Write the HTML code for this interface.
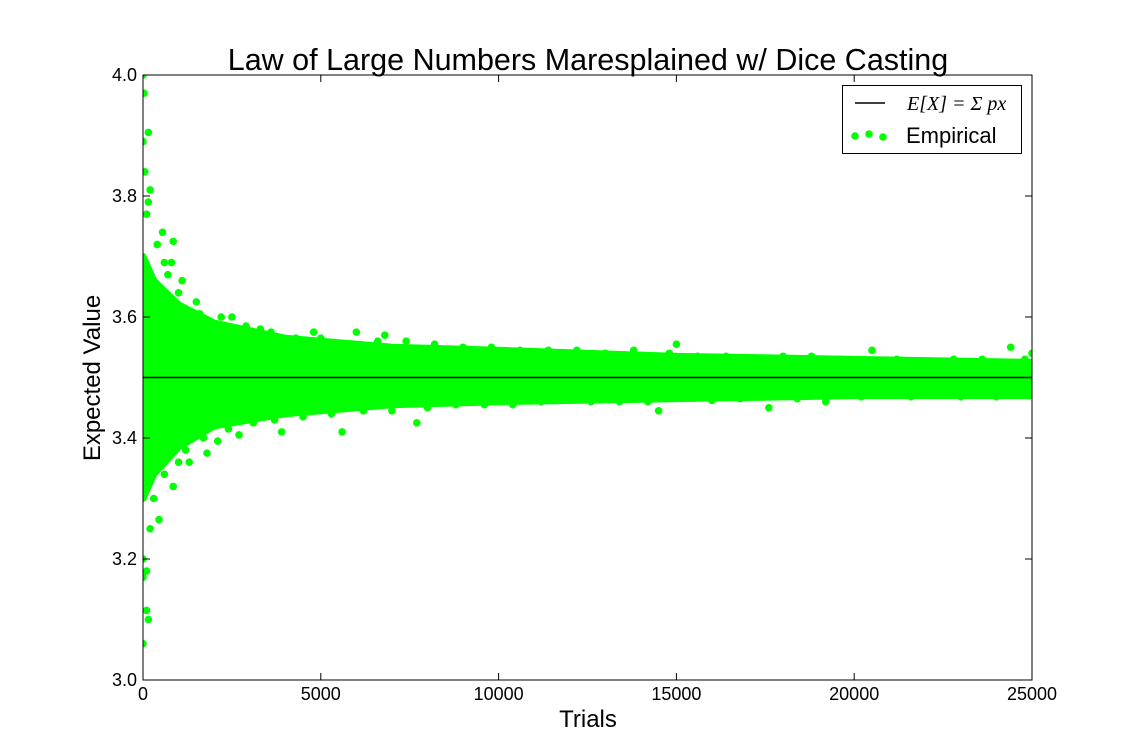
<!DOCTYPE html>
<html><head><meta charset="utf-8"><style>
body{margin:0;background:#fff;}
svg{display:block;font-family:"Liberation Sans",sans-serif;}
</style></head><body>
<svg id="chart" width="1146" height="756">
<rect width="1146" height="756" fill="#fff"/>
<g id="plot"></g>
</svg>
<script>
const envTrials=[0,300,1000,2000,4000,7000,10000,15000,20000,25000];
const envLow=[3.30,3.34,3.385,3.42,3.44,3.455,3.46,3.465,3.47,3.47];
const envHigh=[3.70,3.66,3.62,3.59,3.565,3.55,3.545,3.535,3.53,3.525];
const outX=[0,30,150,0,50,200,150,100,550,850,600,800,1000,1500,1100,0,0,100,150,0,100,200,450,300,600,850,1000,1300,1800,2100,2700,3900,5600,6000,4800,7700,14500,15000,20500,24400,17600,19200,25000,6800,3300,2500,1200,400,700,
 1600,2200,2900,3600,4300,5000,5900,6600,7400,8200,9000,9800,10600,11400,12200,13000,13800,14800,15600,16400,17200,18000,18800,19600,21200,22000,22800,23600,24800,
 1700,2400,3100,3700,4500,5300,6200,7000,8000,8800,9600,10400,11200,12600,13400,14200,16000,16800,18400,20200,21600,23000,24000];
const outY=[4.0,3.97,3.905,3.89,3.84,3.81,3.79,3.77,3.74,3.725,3.69,3.69,3.64,3.625,3.66,3.2,3.17,3.115,3.1,3.06,3.18,3.25,3.265,3.3,3.34,3.32,3.36,3.36,3.375,3.395,3.405,3.41,3.41,3.575,3.575,3.425,3.445,3.555,3.545,3.55,3.45,3.46,3.54,3.57,3.58,3.6,3.38,3.72,3.67,
 3.605,3.6,3.585,3.575,3.565,3.565,3.555,3.56,3.56,3.555,3.55,3.55,3.545,3.545,3.545,3.54,3.545,3.54,3.535,3.535,3.53,3.535,3.535,3.53,3.53,3.525,3.53,3.53,3.53,
 3.40,3.415,3.425,3.43,3.435,3.44,3.445,3.445,3.45,3.455,3.455,3.455,3.46,3.46,3.46,3.46,3.462,3.465,3.465,3.468,3.468,3.468,3.468];
const expected=3.5;
const xTicks=[0,5000,10000,15000,20000,25000];
const yTicks=[3.0,3.2,3.4,3.6,3.8,4.0];

const L=143,R=1032,T=75,B=680;
const sx=v=>L+(v-0)/(25000)*(R-L);
const sy=v=>B-(v-3)/(1)*(B-T);
const NS='http://www.w3.org/2000/svg';
const g=document.getElementById('plot');
function mk(t,a,p){const e=document.createElementNS(NS,t);for(const k in a)e.setAttribute(k,a[k]);(p||g).appendChild(e);return e;}

const defs=mk('clipPath',{id:'clip'});mk('rect',{x:L,y:T,width:R-L,height:B-T},defs);
const pg=mk('g',{'clip-path':'url(#clip)'});
let pts=[];
for(let i=0;i<envTrials.length;i++)pts.push(sx(envTrials[i])+','+sy(envHigh[i]));
for(let i=envTrials.length-1;i>=0;i--)pts.push(sx(envTrials[i])+','+sy(envLow[i]));
const band=mk('polygon',{points:pts.join(' '),fill:'#00ff00',stroke:'#00ff00','stroke-width':7,'stroke-linejoin':'round'},pg);


for(let i=0;i<outX.length;i++){
 const c=mk('circle',{cx:sx(outX[i]),cy:sy(outY[i]),r:3.8,fill:'#00ff00'},pg);
 
 
}
const el=mk('line',{x1:L,x2:R,y1:sy(expected),y2:sy(expected),stroke:'#000','stroke-width':1.5},pg);



const fr=mk('rect',{x:L,y:T,width:R-L,height:B-T,fill:'none',stroke:'#000','stroke-width':1});


xTicks.forEach(v=>{
 const x=sx(v);
 mk('line',{x1:x,x2:x,y1:B,y2:B-7,stroke:'#000'});mk('line',{x1:x,x2:x,y1:T,y2:T+7,stroke:'#000'});
 const t=mk('text',{x:x,y:B+20,'text-anchor':'middle','font-size':18});t.textContent=v;
 
 
});
yTicks.forEach(v=>{
 const y=sy(v);
 mk('line',{x1:L,x2:L+7,y1:y,y2:y,stroke:'#000'});mk('line',{x1:R,x2:R-7,y1:y,y2:y,stroke:'#000'});
 const t=mk('text',{x:L-6,y:y+6,'text-anchor':'end','font-size':18});t.textContent=v.toFixed(1);
 
 
});
</script>
<svg style="position:absolute;left:0;top:0" width="1146" height="756">
<text x="588" y="70" text-anchor="middle" font-size="30.5" font-family="Liberation Sans, sans-serif">Law of Large Numbers Maresplained w/ Dice Casting</text>
<text x="588" y="727" text-anchor="middle" font-size="24" font-family="Liberation Sans, sans-serif">Trials</text>
<text transform="translate(100,378) rotate(-90)" text-anchor="middle" font-size="24" font-family="Liberation Sans, sans-serif">Expected Value</text>
<g>
<rect x="842.5" y="85.5" width="179" height="68" fill="#fff" stroke="#000"/>
<line x1="855" x2="885" y1="103" y2="103" stroke="#000" stroke-width="1.5"/>
<text x="907" y="110" font-size="20" font-style="italic" font-family="Liberation Serif, serif">E[X] = Σ px</text>
<circle cx="855" cy="136" r="3.8" fill="#00ff00"/><circle cx="869" cy="134" r="3.8" fill="#00ff00"/><circle cx="883" cy="137" r="3.8" fill="#00ff00"/>
<text x="906" y="143" font-size="22" font-family="Liberation Sans, sans-serif">Empirical</text>
</g>
</svg>
</body></html>
